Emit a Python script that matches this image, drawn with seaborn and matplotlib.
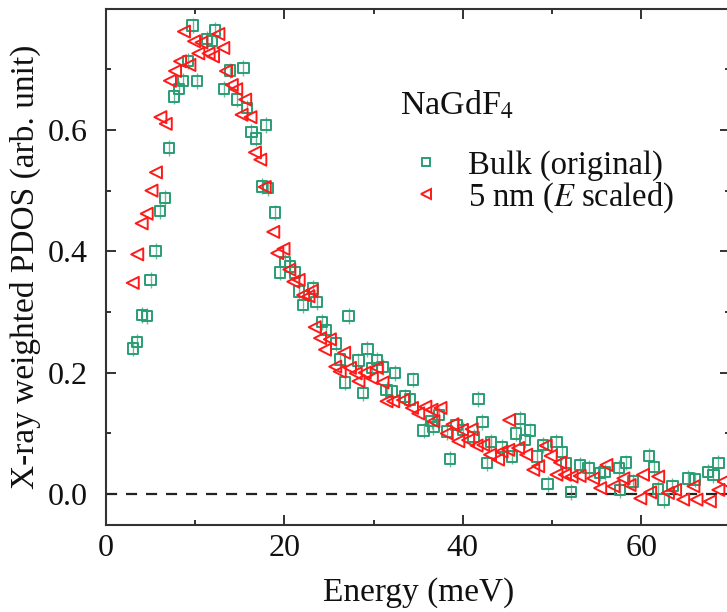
import numpy as np
import pandas as pd
import seaborn as sns
import matplotlib
matplotlib.use("Agg")
import matplotlib.pyplot as plt
from matplotlib.lines import Line2D
from matplotlib.ticker import MultipleLocator

# ---------------- data ----------------
bulk_energy = [3.0, 3.5, 4.0, 4.56, 5.0, 5.55, 6.05, 6.6, 7.1, 7.6, 8.15, 8.67, 9.2, 9.7,
               10.24, 11.3, 11.85, 12.25, 13.2, 13.9, 14.7, 15.4, 15.8, 16.3, 16.8, 17.45,
               17.9, 18.2, 18.95, 19.5, 20.1, 20.6, 21.2, 21.6, 22.05, 23.2, 23.6, 24.2,
               24.7, 25.8, 26.2, 26.8, 27.2, 28.3, 28.85, 29.3, 29.8, 30.35, 31.0, 31.45,
               32.0, 32.4, 33.5, 34.1, 34.45, 35.6, 36.5, 36.7, 37.3, 38.2, 38.55, 39.3,
               40.06, 41.2, 41.75, 42.2, 42.7, 43.2, 44.35, 45.5, 46.0, 46.4, 46.95, 47.5,
               48.35, 49.0, 49.5, 50.5, 51.1, 51.6, 52.1, 53.1, 54.1, 55.4, 55.9, 57.5,
               57.6, 58.3, 59.1, 60.9, 61.4, 61.9, 62.5, 63.5, 65.3, 66.0, 67.5, 68.1, 68.65]
bulk_pdos = [0.240, 0.251, 0.295, 0.293, 0.353, 0.400, 0.466, 0.488, 0.570, 0.655, 0.667,
             0.681, 0.713, 0.772, 0.681, 0.750, 0.746, 0.764, 0.667, 0.698, 0.650, 0.702,
             0.636, 0.597, 0.586, 0.507, 0.608, 0.504, 0.464, 0.365, 0.382, 0.375, 0.365,
             0.334, 0.312, 0.339, 0.317, 0.284, 0.270, 0.248, 0.222, 0.184, 0.294, 0.220,
             0.167, 0.239, 0.208, 0.221, 0.210, 0.172, 0.169, 0.200, 0.161, 0.156, 0.189,
             0.105, 0.120, 0.111, 0.130, 0.103, 0.058, 0.114, 0.106, 0.094, 0.157, 0.119,
             0.051, 0.086, 0.078, 0.062, 0.100, 0.124, 0.089, 0.105, 0.062, 0.081, 0.017,
             0.086, 0.070, 0.051, 0.003, 0.048, 0.043, 0.035, 0.037, 0.043, 0.007, 0.052,
             0.021, 0.063, 0.045, 0.008, -0.009, 0.013, 0.026, 0.024, 0.037, 0.032, 0.051]
bulk_err = 0.013

nano_energy = [3.0, 3.5, 4.0, 4.56, 5.1, 5.6, 6.1, 6.7, 7.17, 7.74, 8.3, 8.74, 9.35, 9.87,
               10.35, 10.7, 11.5, 12.0, 12.6, 13.15, 13.45, 14.1, 14.6, 15.2, 15.6, 16.2,
               16.7, 17.3, 17.8, 18.75, 19.2, 19.9, 20.55, 21.0, 21.6, 22.1, 22.7, 23.05,
               23.4, 24.0, 24.55, 25.1, 25.7, 26.2, 26.7, 27.35, 28.0, 28.3, 29.0, 29.8,
               30.35, 31.0, 31.45, 32.2, 33.3, 34.3, 35.0, 35.8, 36.5, 36.7, 37.5, 38.2,
               38.85, 39.5, 39.9, 40.6, 41.0, 41.55, 42.3, 43.05, 43.95, 44.35, 45.1, 45.2,
               46.2, 47.1, 47.9, 48.45, 49.3, 49.85, 50.5, 50.9, 51.45, 52.2, 53.1, 54.6,
               55.4, 56.1, 56.9, 58.0, 58.7, 59.9, 60.2, 61.0, 61.9, 63.0, 63.8, 64.7,
               65.85, 66.2, 67.7, 68.65, 69.2]
nano_pdos = [0.348, 0.395, 0.446, 0.462, 0.500, 0.530, 0.621, 0.610, 0.681, 0.697, 0.713,
             0.762, 0.707, 0.746, 0.726, 0.744, 0.726, 0.721, 0.758, 0.735, 0.697, 0.674,
             0.667, 0.625, 0.650, 0.621, 0.563, 0.551, 0.506, 0.432, 0.397, 0.404, 0.370,
             0.350, 0.353, 0.328, 0.326, 0.335, 0.275, 0.257, 0.238, 0.255, 0.210, 0.202,
             0.233, 0.208, 0.199, 0.186, 0.200, 0.191, 0.208, 0.184, 0.153, 0.153, 0.155,
             0.142, 0.133, 0.144, 0.139, 0.120, 0.142, 0.100, 0.115, 0.087, 0.106, 0.089,
             0.107, 0.080, 0.081, 0.065, 0.057, 0.070, 0.073, 0.122, 0.076, 0.065, 0.040,
             0.046, 0.080, 0.063, 0.032, 0.052, 0.032, 0.029, 0.030, 0.026, 0.010, 0.048,
             0.013, 0.026, 0.015, -0.007, 0.032, 0.003, 0.029, 0.002, 0.007, -0.009, 0.013,
             -0.009, -0.012, 0.007, 0.021]

legend_title = "NaGdF$_4$"
bulk_label = "Bulk (original)"
nano_label = "5 nm ($E$ scaled)"
x_label = "Energy (meV)"
y_label = "X-ray weighted PDOS (arb. unit)"

GREEN = "#2a9d74"
RED = "#ff1a1a"

# ---------------- style ----------------
sns.set_theme(style="ticks")
plt.rcParams["font.family"] = ["Liberation Serif", "DejaVu Serif"]
plt.rcParams["mathtext.fontset"] = "stix"

fig = plt.figure(figsize=(7.27, 6.12), dpi=100)
ax = fig.add_axes([106 / 727, 1 - 524.5 / 612, 624.4 / 727, (524.5 - 8.5) / 612])

bulk_df = pd.DataFrame({"E": bulk_energy, "P": bulk_pdos})
nano_df = pd.DataFrame({"E": nano_energy, "P": nano_pdos})

ax.axhline(0, color="#222222", lw=1.6, ls=(0, (5, 4)), zorder=1)

ax.errorbar(bulk_df["E"], bulk_df["P"], yerr=bulk_err, fmt="none",
            ecolor=GREEN, elinewidth=1.0, alpha=0.7, zorder=2)
sns.scatterplot(data=bulk_df, x="E", y="P", ax=ax, marker="s", s=55,
                facecolors="none", edgecolor=GREEN, linewidth=1.4, zorder=3)
sns.scatterplot(data=nano_df, x="E", y="P", ax=ax, marker="<", s=75,
                facecolors="none", edgecolor=RED, linewidth=1.4, zorder=4)

ax.set_xlim(0, 70)
ax.set_ylim(-0.05, 0.8)
ax.xaxis.set_major_locator(MultipleLocator(20))
ax.xaxis.set_minor_locator(MultipleLocator(10))
ax.set_yticks([0.0, 0.2, 0.4, 0.6])
ax.set_yticks([0.1, 0.3, 0.5, 0.7], minor=True)
ax.yaxis.set_major_formatter(matplotlib.ticker.FormatStrFormatter("%.1f"))

ax.tick_params(which="both", direction="in", top=True, right=True, colors="#222222",
               labelcolor="#111111", labelsize=23, width=1.3)
ax.tick_params(which="major", length=7)
ax.tick_params(which="minor", length=3.5)
ax.tick_params(axis="x", which="major", pad=7)
ax.tick_params(axis="y", which="major", pad=13)
for sp in ax.spines.values():
    sp.set_linewidth(1.5)
    sp.set_color("#333333")

ax.set_xlabel(x_label, fontsize=24, color="#111111", labelpad=10)
ax.set_ylabel(y_label, fontsize=24, color="#111111", labelpad=5)

# legend: title drawn as its own text, entries below
fig.text(400 / 727, 1 - 105 / 612, legend_title, fontsize=24.5, color="#111111",
         ha="left", va="center")
handles = [
    Line2D([], [], ls="none", marker="s", ms=5.5, mfc="none", mec=GREEN, mew=1.4),
    Line2D([], [], ls="none", marker="<", ms=6.5, mfc="none", mec=RED, mew=1.4),
]
leg = fig.legend(handles, [bulk_label, nano_label],
                 loc="upper left", bbox_to_anchor=(403 / 727, 1 - 140 / 612),
                 frameon=False, fontsize=23.5, borderpad=0.3,
                 handlelength=0.8, handletextpad=0.9, labelspacing=0.0,
                 borderaxespad=0)
for t in leg.get_texts():
    t.set_color("#111111")

fig.savefig("out.png", dpi=100)
